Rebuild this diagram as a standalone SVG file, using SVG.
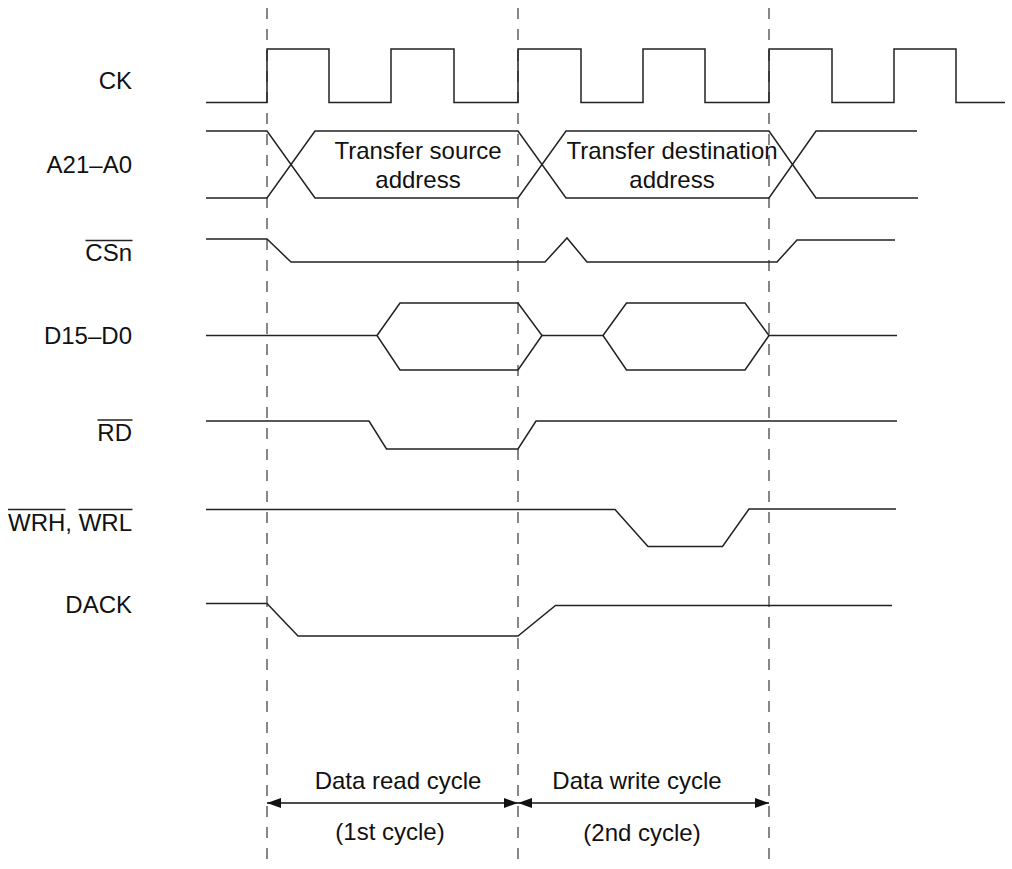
<svg xmlns="http://www.w3.org/2000/svg" width="1012" height="869" viewBox="0 0 1012 869">
<style>
text{font-family:"Liberation Sans",Arial,sans-serif;font-size:24px;fill:#111}
.lbl{text-anchor:end}
.mid{text-anchor:middle}
.sig{fill:none;stroke:#222;stroke-width:1.5;stroke-linejoin:miter}
.ov{stroke:#222;stroke-width:1.4}
.dash{stroke:#555;stroke-width:1.4;stroke-dasharray:11 10}
.dim{stroke:#111;stroke-width:1.5;fill:none}
</style>
<defs>
<marker id="ah" viewBox="0 0 14 10" refX="14" refY="5" markerWidth="14" markerHeight="10" markerUnits="userSpaceOnUse" orient="auto-start-reverse">
<path d="M0,0 L14,5 L0,10 Z" fill="#111"/>
</marker>
</defs>
<rect width="1012" height="869" fill="#fff"/>
<g id="guides">
<line class="dash" x1="267" y1="8" x2="267" y2="869"/>
<line class="dash" x1="518" y1="8" x2="518" y2="869"/>
<line class="dash" x1="769" y1="8" x2="769" y2="869"/>
</g>
<g id="CK">
<text class="lbl" x="132" y="89">CK</text>
<path class="sig" d="M206,102.5 H267 V49 H329 V102.5 H391 V49 H454 V102.5 H518 V49 H581 V102.5 H643 V49 H705 V102.5 H769 V49 H832 V102.5 H894 V49 H956 V102.5 H1005"/>
</g>
<g id="A21-A0">
<text class="lbl" x="132" y="173">A21–A0</text>
<path class="sig" d="M206,131 H267 L315,198 H518 L566,131 H769 L816,198 H918"/>
<path class="sig" d="M206,198 H267 L315,131 H518 L566,198 H769 L816,131 H917"/>
<text class="mid" x="418" y="159">Transfer source</text>
<text class="mid" x="418" y="188">address</text>
<text class="mid" x="672" y="159">Transfer destination</text>
<text class="mid" x="672" y="188">address</text>
</g>
<g id="CSn">
<text class="lbl" x="132" y="261">CSn</text>
<line class="ov" x1="85.5" y1="240.5" x2="132.5" y2="240.5"/>
<path class="sig" d="M206,239 H267 L291,262 H545 L567,238 L587,262 H777 L797,240 H895"/>
</g>
<g id="D15-D0">
<text class="lbl" x="132" y="344">D15–D0</text>
<path class="sig" d="M206,335.5 H377 M542,335.5 H603 M769,335.5 H897"/>
<path class="sig" d="M377,335.5 L400,303 H518 L542,335.5 L518,370 H400 Z"/>
<path class="sig" d="M603,335.5 L626.5,303 H745 L769,335.5 L745,370 H626.5 Z"/>
</g>
<g id="RD">
<text class="lbl" x="132" y="441">RD</text>
<line class="ov" x1="97.5" y1="420" x2="132.5" y2="420"/>
<path class="sig" d="M206,421 H369 L386.5,449 H518 L536,421 H897"/>
</g>
<g id="WRH-WRL">
<text class="lbl" x="132" y="531">WRH, WRL</text>
<line class="ov" x1="8" y1="509.5" x2="65.5" y2="509.5"/>
<line class="ov" x1="78.5" y1="509.5" x2="132.5" y2="509.5"/>
<path class="sig" d="M206,509.5 H615 L648,546.5 H722.5 L749,509 H896"/>
</g>
<g id="DACK">
<text class="lbl" x="132" y="613">DACK</text>
<path class="sig" d="M206,603.5 H267 L298,636 H518 L555.5,605.5 H892"/>
</g>
<g id="connectors">
<line class="dim" x1="267" y1="803" x2="518" y2="803" marker-start="url(#ah)" marker-end="url(#ah)"/>
<line class="dim" x1="518" y1="803" x2="769" y2="803" marker-start="url(#ah)" marker-end="url(#ah)"/>
</g>
<g id="cycle-labels">
<text class="mid" x="398" y="789">Data read cycle</text>
<text class="mid" x="390" y="840">(1st cycle)</text>
<text class="mid" x="637" y="789">Data write cycle</text>
<text class="mid" x="642" y="841">(2nd cycle)</text>
</g>
</svg>
